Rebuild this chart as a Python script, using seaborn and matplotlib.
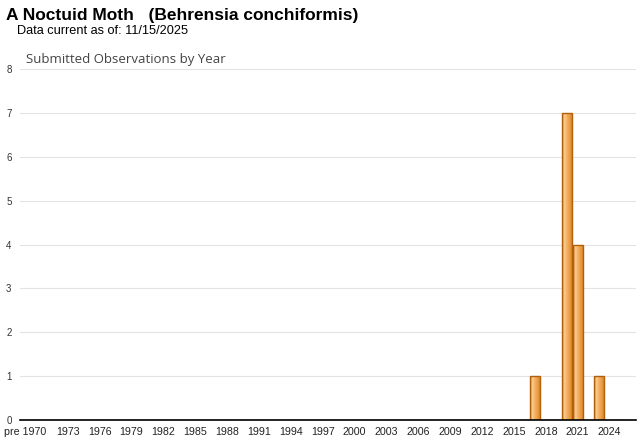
import numpy as np
import pandas as pd
import matplotlib.pyplot as plt
from matplotlib.colors import LinearSegmentedColormap
import seaborn as sns

years = ["pre 1970"] + [str(y) for y in range(1970, 2026)]
obs_years = ["2017", "2020", "2021", "2023"]
obs_counts = [1, 7, 4, 1]

counts = [obs_counts[obs_years.index(y)] if y in obs_years else 0 for y in years]
df = pd.DataFrame({"year": years, "count": counts})

sns.set_theme(style="white")
plt.rcParams['font.family'] = ['Liberation Sans', 'DejaVu Sans']

fig = plt.figure(figsize=(6.4, 4.42), dpi=100)
ax = fig.add_axes([0.031, 0.0498, 0.963, 0.794])

sns.barplot(data=df, x="year", y="count", order=years, ax=ax,
            color="#EFA24C", edgecolor="#B0600C", linewidth=1.0, width=0.92,
            saturation=1)

# horizontal shading inside each bar, like the original
shade = LinearSegmentedColormap.from_list(
    "bar", ["#DC8E36", "#FACE94", "#F4B062", "#EC9D46", "#DD8A30"])
grad = np.linspace(0, 1, 64).reshape(1, -1)
for p in ax.patches:
    h = p.get_height()
    if h <= 0:
        continue
    x0, w = p.get_x(), p.get_width()
    im = ax.imshow(grad, cmap=shade, aspect="auto",
                   extent=(x0, x0 + w, 0, h), zorder=p.get_zorder() + 0.1)
    im.set_clip_path(p)
    p.set_zorder(p.get_zorder() + 0.2)
    p.set_facecolor("none")

ax.set_xlim(-0.5, len(years) + 0.5)
ax.set_ylim(0, 8)
ax.set_yticks(range(0, 9))
ax.yaxis.grid(True, color="#e3e3e3", linewidth=0.8)
ax.set_axisbelow(True)
for s in ["left", "right", "top"]:
    ax.spines[s].set_visible(False)
ax.spines["bottom"].set_color("black")
ax.spines["bottom"].set_linewidth(1.2)
ax.spines["bottom"].set_zorder(5)

tick_pos = [0] + list(range(4, len(years), 3))
ax.set_xticks(tick_pos)
ax.set_xticklabels([years[i] for i in tick_pos], fontsize=7.7, color="#222222")
ax.tick_params(axis="x", length=3, color="#cccccc", pad=2)
ax.tick_params(axis="y", length=0, labelsize=7, labelcolor="#333333", pad=6)
ax.set_xlabel("")
ax.set_ylabel("")

fig.text(0.009, 0.966, "A Noctuid Moth   (Behrensia conchiformis)", fontsize=12.5,
         fontweight="bold", color="black", va="center", ha="left")
fig.text(0.027, 0.929, "Data current as of: 11/15/2025", fontsize=9.2,
         color="black", va="center", ha="left")
fig.text(0.040, 0.866, "Submitted Observations by Year", fontsize=9.5,
         color="#444444", va="center", ha="left", family=["Open Sans", "DejaVu Sans"])

fig.savefig("out.png", dpi=100)
